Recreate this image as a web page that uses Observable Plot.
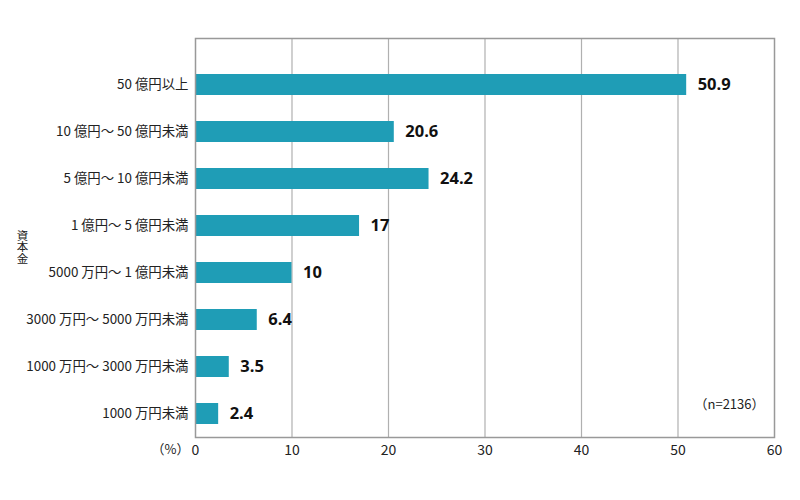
<!DOCTYPE html>
<html><head><meta charset="utf-8">
<script src="https://cdn.jsdelivr.net/npm/d3@7"></script>
<script src="https://cdn.jsdelivr.net/npm/@observablehq/plot@0.6"></script>
<style>
body{margin:0;background:#fff;}
svg{font-family:"Noto Sans CJK JP","Noto Sans",sans-serif;}
</style>
</head><body><div id="chart"></div>
<script>
const categories = ["50 億円以上","10 億円～ 50 億円未満","5 億円～ 10 億円未満","1 億円～ 5 億円未満","5000 万円～ 1 億円未満","3000 万円～ 5000 万円未満","1000 万円～ 3000 万円未満","1000 万円未満"];
const values = [50.9, 20.6, 24.2, 17, 10, 6.4, 3.5, 2.4];
const xTicks = [0,10,20,30,40,50,60];
const axisTitle = "資本金";
const data = categories.map((c,i)=>({cat:c, v:values[i]}));

const chart = Plot.plot({
  width: 800, height: 500,
  marginLeft: 195, marginRight: 26, marginTop: 38, marginBottom: 63,
  style: {fontSize: "13px", color: "#222"},
  x: {domain:[0,60], ticks: xTicks, label: null, grid: false},
  y: {domain: categories, padding: 0.56, paddingOuter: 0.445, align: 0.74, label: null},
  marks: [
    Plot.ruleX(xTicks.slice(1,-1), {stroke:"#b0b0b0", strokeWidth:1.2}),
    Plot.barX(data, {x:"v", y:"cat", fill:"#1f9db6"}),
    Plot.frame({stroke:"#999", strokeWidth:1.5}),
    Plot.axisX({ticks: xTicks, tickSize:0, tickPadding:8, fontSize:14, label:null}),
    Plot.axisY({tickSize:0, tickPadding:7, fontSize:13.4, label:null}),
    Plot.text(data, {x:"v", y:"cat", text: d=>String(d.v), textAnchor:"start", dx:11, fontWeight:"bold", fontSize:16.5, fill:"#111", fontFamily:"Open Sans, sans-serif"}),
    Plot.text([axisTitle], {frameAnchor:"left", dx:-173, dy:5, fontSize:11.5, textAnchor:"middle",
      render: (index, scales, values, dims, context, next) => {
        const g = next(index, scales, values, dims, context);
        d3.select(g).selectAll("text").style("writing-mode", "vertical-rl").attr("dy", null);
        return g;
      }}),
    Plot.text(["（%）"], {frameAnchor:"bottom-left", dx:-25, dy:16, fontSize:13, textAnchor:"middle"}),
    Plot.text(["（n=2136）"], {frameAnchor:"bottom-right", dx:-45, dy:-29, fontSize:13, textAnchor:"middle"})
  ]
});
document.getElementById("chart").appendChild(chart);
</script>
</body></html>
